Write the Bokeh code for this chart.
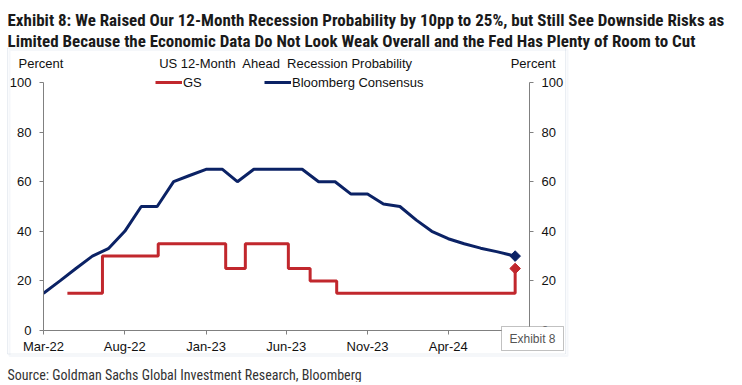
import pandas as pd
from bokeh.plotting import figure
from bokeh.models import (LinearAxis, FixedTicker, Label, BoxAnnotation, Legend,
                          LegendItem, Range1d, ColumnDataSource)
from bokeh.embed import file_html
from bokeh.resources import INLINE

# ---------------- data ----------------
bloomberg_dates = ["2022-03-01", "2022-04-01", "2022-05-01", "2022-06-01", "2022-07-01",
                   "2022-08-01", "2022-09-01", "2022-10-01", "2022-11-01", "2022-12-01",
                   "2023-01-01", "2023-02-01", "2023-03-01", "2023-04-01", "2023-05-01",
                   "2023-06-01", "2023-07-01", "2023-08-01", "2023-09-01", "2023-10-01",
                   "2023-11-01", "2023-12-01", "2024-01-01", "2024-02-01", "2024-03-01",
                   "2024-04-01", "2024-05-01", "2024-06-01", "2024-07-01", "2024-08-05"]
bloomberg_values = [15, 20, 25, 30, 33, 40, 50, 50, 60, 62.5,
                    65, 65, 60, 65, 65, 65, 65, 60, 60, 55,
                    55, 51, 50, 44.5, 40, 37, 35, 33.2, 31.8, 30]

gs_dates = ["2022-04-15", "2022-06-20", "2022-10-03", "2023-02-07", "2023-03-16",
            "2023-06-05", "2023-07-16", "2023-09-04", "2024-08-05"]
gs_values = [15, 30, 35, 25, 35, 25, 20, 15, 25]

x_tick_dates = ["2022-03-01", "2022-08-01", "2023-01-01", "2023-06-01", "2023-11-01", "2024-04-01"]
x_tick_labels = ["Mar-22", "Aug-22", "Jan-23", "Jun-23", "Nov-23", "Apr-24"]
y_ticks = [0, 20, 40, 60, 80, 100]

series_names = ["GS", "Bloomberg Consensus"]
title_lines = ["Exhibit 8: We Raised Our 12-Month Recession Probability by 10pp to 25%, but Still See Downside Risks as",
               "Limited Because the Economic Data Do Not Look Weak Overall and the Fed Has Plenty of Room to Cut"]
chart_title = "US 12-Month\u00a0 Ahead\u00a0 Recession Probability"
source_text = "Source: Goldman Sachs Global Investment Research, Bloomberg"
x_start, x_end = "2022-03-01", "2024-09-01"


def ms(d):
    return float(pd.Timestamp(d).value // 10**6)


W, H = 740, 382
FL, FR, FT, FB = 43, 529, 82, 330  # frame edges in page pixels

RED = "#c1272d"
NAVY = "#0b2265"
TXT = "#111111"
AX = "#808080"
FONT = "Liberation Sans"
TFONT = "Roboto Condensed"

# ---------------- chart figure ----------------
p = figure(width=W, height=H, x_axis_type="datetime",
           x_range=Range1d(ms(x_start), ms(x_end)), y_range=Range1d(0, 100),
           output_backend="svg", toolbar_location=None,
           min_border_left=FL, min_border_right=W - FR,
           min_border_top=FT, min_border_bottom=H - FB)
p.xgrid.visible = False
p.ygrid.visible = False
p.outline_line_color = None
p.background_fill_color = None
p.border_fill_color = None

bb_src = ColumnDataSource(dict(x=[ms(d) for d in bloomberg_dates], y=bloomberg_values))
gs_src = ColumnDataSource(dict(x=[ms(d) for d in gs_dates], y=gs_values))

p.line("x", "y", source=bb_src, line_color=NAVY, line_width=3)
p.step("x", "y", source=gs_src, mode="after", line_color=RED, line_width=3)
p.scatter(x=[ms(bloomberg_dates[-1])], y=[bloomberg_values[-1]], marker="square",
          angle=0.785, size=7.5, fill_color=NAVY, line_color=NAVY)
p.scatter(x=[ms(gs_dates[-1])], y=[gs_values[-1]], marker="square",
          angle=0.785, size=7.5, fill_color=RED, line_color=RED)

xa = p.xaxis[0]
tick_ms = [ms(d) for d in x_tick_dates]
xa.ticker = FixedTicker(ticks=tick_ms)
xa.major_label_overrides = {t: lab for t, lab in zip(tick_ms, x_tick_labels)}
ya = p.yaxis[0]
ya.ticker = FixedTicker(ticks=y_ticks)
ra = LinearAxis(ticker=FixedTicker(ticks=y_ticks))
p.add_layout(ra, "right")
for a in (xa, ya, ra):
    a.axis_line_color = AX
    a.major_tick_line_color = AX
    a.major_tick_in = 0
    a.major_tick_out = 4
    a.minor_tick_line_color = None
    a.major_label_text_font = FONT
    a.major_label_text_font_size = "13px"
    a.major_label_text_color = TXT
ya.major_label_standoff = 8
ra.major_label_standoff = 8
xa.major_label_standoff = 4

# ---------------- overlay figure (texts, box, legend) ----------------
q = figure(width=W, height=H, x_range=Range1d(0, W), y_range=Range1d(H, 0),
           output_backend="svg", toolbar_location=None,
           x_axis_location=None, y_axis_location=None,
           min_border=0, min_border_left=0, min_border_right=0,
           min_border_top=0, min_border_bottom=0)
q.xgrid.visible = False
q.ygrid.visible = False
q.outline_line_color = None
q.background_fill_color = None
q.border_fill_color = None
q.margin = (-H, 0, 0, 0)

q.add_layout(BoxAnnotation(left=9, right=567, top=49.5, bottom=355.5, fill_color=None,
                           line_color="#dde5ee", line_width=2))
q.add_layout(BoxAnnotation(left=7, right=565, top=47.5, bottom=353.5, fill_color=None,
                           line_color="#b9c8d8", line_width=1))

nan = float("nan")
g_gs = q.line(x=[nan], y=[nan], line_color=RED, line_width=3)
g_bb = q.line(x=[nan], y=[nan], line_color=NAVY, line_width=3)
legend = Legend(items=[LegendItem(label=series_names[0], renderers=[g_gs]),
                       LegendItem(label=series_names[1], renderers=[g_bb])],
                orientation="horizontal", location=(155, H - 90),
                padding=0, margin=0, spacing=61, glyph_width=27, glyph_height=16,
                label_height=16, label_standoff=1, label_text_font=FONT,
                label_text_font_size="13px", label_text_color=TXT,
                border_line_color=None, background_fill_alpha=0)
q.add_layout(legend)


def lab(text, px, py, size, font=FONT, align="left", baseline="middle",
        color=TXT, style="normal"):
    q.add_layout(Label(x=px, y=py, text=text, text_font=font, text_font_size=size,
                       text_align=align, text_baseline=baseline,
                       text_color=color, text_font_style=style))


lab("Percent", 18, 63, "13px")
lab("Percent", 555, 63, "13px", align="right")
lab(chart_title, 285.5, 63, "13px", align="center")
lab(title_lines[0], 7, 19, "17px", font=TFONT, baseline="alphabetic", color="#1a1a1a", style="bold")
lab(title_lines[1], 7, 40.7, "17px", font=TFONT, baseline="alphabetic", color="#1a1a1a", style="bold")
lab(source_text, 7, 374, "14px", font=TFONT, baseline="alphabetic", color="#333333")

q.add_layout(BoxAnnotation(left=501, right=563, top=326, bottom=350,
                           fill_color="white", fill_alpha=1,
                           line_color="#333333", line_width=1))
lab("Exhibit 8", 532, 338.5, "12px", align="center", color="#555555")

open("out.html", "w").write(file_html([p, q], INLINE))
